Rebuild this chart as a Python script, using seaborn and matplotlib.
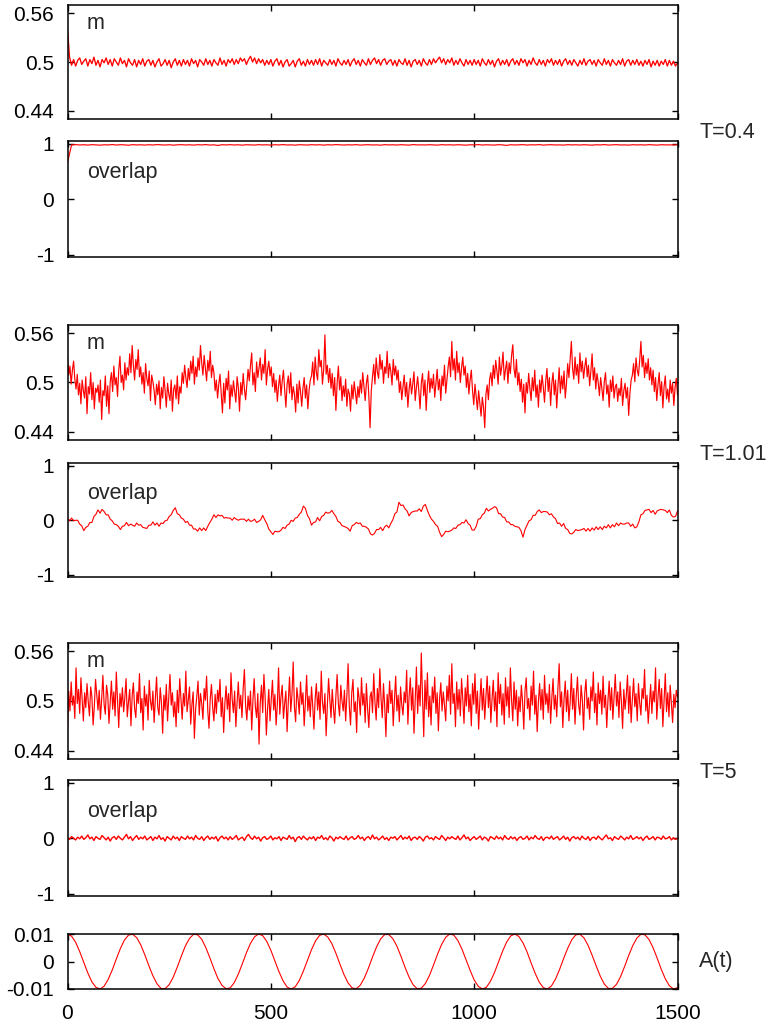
import numpy as np
import pandas as pd
import matplotlib
matplotlib.use("Agg")
import matplotlib.pyplot as plt
import seaborn as sns

# ---------------- data ----------------
T_MAX = 1500

# m at T=0.4 in units of 1/1000, sampled every 5 time units (t = 0 ... 1500)
m_T04_milli = [
    540, 506, 496, 503, 495, 502, 505, 497, 501, 504, 495, 503, 498, 506, 496, 502, 494, 503, 499, 505,
    497, 503, 495, 504, 500, 496, 505, 498, 502, 494, 504, 499, 496, 503, 494, 502, 497, 504, 495, 501,
    503, 496, 502, 494, 500, 504, 495, 498, 503, 496, 502, 493, 500, 504, 496, 502, 495, 503, 497, 502,
    495, 504, 498, 502, 494, 503, 500, 496, 504, 497, 502, 495, 503, 499, 496, 505, 497, 502, 495, 503,
    499, 504, 497, 503, 498, 505, 501, 504, 497, 503, 507, 500, 505, 498, 504, 499, 503, 496, 502, 497,
    503, 495, 501, 504, 496, 502, 494, 500, 503, 495, 498, 502, 494, 501, 504, 496, 501, 495, 503, 497,
    502, 496, 503, 497, 504, 495, 502, 499, 496, 503, 497, 502, 495, 504, 499, 496, 502, 497, 503, 495,
    501, 504, 497, 502, 495, 503, 499, 496, 504, 497, 502, 505, 498, 503, 496, 502, 504, 497, 501, 503,
    496, 502, 495, 503, 499, 497, 504, 496, 502, 494, 501, 503, 497, 502, 495, 504, 499, 496, 503, 497,
    504, 499, 503, 506, 499, 504, 497, 503, 499, 505, 496, 502, 497, 504, 499, 495, 503, 497, 502, 496,
    503, 497, 502, 495, 504, 499, 496, 503, 497, 502, 494, 501, 504, 496, 502, 497, 503, 495, 501, 504,
    497, 502, 496, 504, 499, 503, 495, 502, 497, 505, 499, 496, 503, 497, 502, 495, 503, 499, 504, 496,
    502, 497, 503, 495, 501, 504, 497, 502, 496, 503, 499, 495, 502, 497, 504, 496, 501, 503, 497, 502,
    495, 503, 499, 496, 504, 497, 502, 495, 503, 499, 496, 502, 497, 504, 495, 501, 503, 496, 502, 497,
    503, 496, 501, 495, 502, 497, 503, 494, 501, 496, 502, 495, 501, 497, 503, 495, 502, 496, 501, 495,
    499,
]

# overlap at T=0.4, sampled every 10 time units
overlap_T04 = [
    0.66, 0.98, 0.985, 0.978, 0.983, 0.976, 0.984, 0.980, 0.975, 0.982,
    0.979, 0.986, 0.977, 0.983, 0.980, 0.974, 0.984, 0.979, 0.982, 0.976,
    0.983, 0.978, 0.985, 0.980, 0.977, 0.983, 0.975, 0.981, 0.984, 0.978,
    0.982, 0.976, 0.983, 0.979, 0.985, 0.977, 0.981, 0.970, 0.983, 0.979,
    0.984, 0.978, 0.982, 0.975, 0.983, 0.980, 0.977, 0.984, 0.979, 0.982,
    0.976, 0.983, 0.979, 0.985, 0.978, 0.981, 0.975, 0.983, 0.980, 0.977,
    0.984, 0.979, 0.982, 0.976, 0.983, 0.978, 0.985, 0.980, 0.977, 0.982,
    0.979, 0.984, 0.976, 0.981, 0.983, 0.978, 0.980, 0.975, 0.984, 0.979,
    0.982, 0.977, 0.983, 0.980, 0.976, 0.985, 0.979, 0.981, 0.978, 0.983,
    0.980, 0.976, 0.984, 0.979, 0.982, 0.977, 0.983, 0.980, 0.975, 0.982,
    0.979, 0.985, 0.977, 0.982, 0.980, 0.976, 0.984, 0.979, 0.971, 0.983,
    0.978, 0.981, 0.984, 0.977, 0.982, 0.979, 0.985, 0.976, 0.981, 0.983,
    0.978, 0.980, 0.976, 0.984, 0.979, 0.982, 0.977, 0.983, 0.980, 0.975,
    0.982, 0.979, 0.985, 0.977, 0.981, 0.984, 0.978, 0.980, 0.976, 0.983,
    0.979, 0.982, 0.977, 0.984, 0.980, 0.976, 0.983, 0.979, 0.981, 0.978,
    0.983,
]

# m at T=1.01 in units of 1/1000, sampled every 3 time units
m_T101_milli = [
    531, 509, 520, 498, 515, 526, 504, 492, 510, 485, 499, 474, 503, 490, 481, 507, 462, 495, 486, 512, 479, 500, 468, 493, 488,
    497, 476, 503, 455, 490, 484, 508, 471, 496, 462, 501, 512, 489, 520, 497, 506, 483, 515, 532, 500, 509, 491, 524, 503, 518,
    509, 535, 512, 545, 521, 503, 528, 516, 540, 507, 519, 498, 512, 487, 523, 505, 496, 514, 478, 509, 501, 490, 473, 498, 485,
    502, 468, 494, 481, 507, 490, 470, 499, 486, 478, 503, 465, 492, 497, 480, 508, 474, 495, 487, 512, 499, 521, 506, 494, 517,
    503, 526, 511, 532, 498, 519, 507, 530, 515, 545, 524, 509, 533, 518, 502, 527, 514, 538, 506, 521, 512, 490, 503, 481, 498,
    510, 486, 463, 499, 475, 505, 491, 514, 468, 497, 483, 502, 489, 476, 507, 494, 465, 500, 485, 511, 492, 479, 498, 516, 502,
    521, 536, 497, 512, 489, 525, 506, 518, 530, 503, 522, 511, 540, 497, 516, 526, 508, 519, 495, 511, 488, 503, 477, 496, 509,
    484, 502, 515, 491, 470, 498, 508, 487, 512, 479, 495, 486, 464, 498, 475, 502, 489, 471, 493, 506, 481, 497, 468, 490, 503,
    508, 525, 497, 531, 512, 503, 540, 519, 527, 498, 516, 558, 510, 521, 500, 517, 493, 511, 484, 506, 466, 499, 520, 491, 507,
    478, 496, 483, 504, 471, 492, 486, 465, 497, 480, 501, 488, 474, 495, 482, 503, 487, 512, 495, 478, 499, 509, 484, 445, 490,
    507, 522, 498, 530, 513, 505, 534, 516, 527, 499, 519, 511, 538, 506, 523, 514, 497, 528, 509, 520, 503, 515, 488, 501, 479,
    495, 509, 483, 500, 470, 492, 505, 486, 498, 513, 478, 494, 507, 489, 468, 499, 511, 484, 503, 466, 496, 514, 488, 505, 493,
    510, 482, 499, 516, 491, 504, 478, 508, 496, 521, 487, 503, 519, 531, 507, 550, 515, 529, 503, 538, 512, 524, 500, 518, 531,
    509, 520, 494, 511, 486, 503, 515, 490, 473, 498, 482, 467, 490, 475, 459, 482, 470, 445, 486, 497, 479, 504, 512, 496, 521,
    505, 527, 514, 498, 531, 509, 520, 537, 503, 516, 526, 499, 524, 511, 533, 546, 517, 506, 528, 497, 512, 489, 504, 476, 498,
    463, 500, 487, 511, 493, 478, 506, 490, 515, 482, 497, 470, 503, 488, 509, 494, 476, 502, 517, 489, 506, 472, 499, 512, 485,
    503, 469, 495, 518, 487, 508, 492, 514, 481, 499, 523, 506, 528, 550, 517, 504, 531, 509, 522, 499, 536, 513, 526, 505, 519,
    530, 507, 521, 496, 514, 535, 503, 518, 492, 511, 500, 484, 506, 493, 478, 501, 512, 486, 497, 470, 503, 489, 508, 481, 495,
    498, 477, 493, 484, 505, 472, 490, 499, 481, 494, 460, 487, 503, 509, 523, 501, 530, 515, 508, 527, 550, 519, 533, 506, 524,
    511, 529, 503, 518, 497, 515, 489, 506, 478, 497, 512, 484, 501, 469, 495, 508, 480, 492, 476, 503, 487, 499, 472, 494, 505,
    485,
]

# overlap at T=1.01, sampled every 5 time units
overlap_T101 = [
    0.04, -0.01, 0.04, -0.01, 0.00, 0.00, -0.07, -0.10, -0.19, -0.13, -0.11, -0.04, -0.04, 0.07, 0.11, 0.19, 0.13, 0.20, 0.16, 0.10,
    0.10, 0.02, -0.01, -0.07, -0.08, -0.11, -0.17, -0.11, -0.10, -0.04, -0.10, -0.07, -0.09, -0.11, -0.05, -0.09, -0.08, -0.13, -0.14, -0.15,
    -0.09, -0.09, -0.03, -0.09, -0.05, -0.11, -0.05, -0.06, -0.01, 0.00, 0.07, 0.10, 0.18, 0.23, 0.12, 0.10, 0.04, 0.02, -0.04, -0.02,
    -0.09, -0.09, -0.16, -0.16, -0.20, -0.14, -0.19, -0.14, -0.19, -0.11, -0.04, 0.02, 0.10, 0.05, 0.10, 0.08, 0.09, 0.04, 0.05, 0.04,
    0.04, 0.00, 0.05, 0.02, 0.00, 0.02, 0.02, 0.02, -0.02, 0.02, -0.02, -0.01, 0.02, -0.04, -0.02, 0.01, 0.09, 0.01, -0.06, -0.16,
    -0.21, -0.26, -0.20, -0.21, -0.21, -0.18, -0.13, -0.15, -0.09, -0.07, 0.00, -0.02, 0.04, 0.05, 0.11, 0.15, 0.26, 0.22, 0.09, 0.03,
    -0.09, -0.04, -0.03, 0.05, -0.01, 0.07, 0.09, 0.15, 0.13, 0.14, 0.18, 0.12, 0.07, -0.02, -0.04, -0.10, -0.11, -0.13, -0.15, -0.20,
    -0.10, -0.08, -0.04, -0.06, -0.05, -0.11, -0.11, -0.13, -0.16, -0.25, -0.27, -0.24, -0.17, -0.17, -0.13, -0.19, -0.12, -0.09, -0.14, -0.06,
    0.01, 0.12, 0.15, 0.33, 0.27, 0.28, 0.21, 0.17, 0.08, 0.14, 0.16, 0.17, 0.17, 0.21, 0.16, 0.26, 0.29, 0.18, 0.09, 0.02,
    -0.02, -0.08, -0.11, -0.22, -0.30, -0.26, -0.20, -0.21, -0.20, -0.18, -0.14, -0.15, -0.09, -0.08, -0.04, -0.05, 0.01, -0.06, -0.09, -0.18,
    -0.18, -0.11, 0.02, 0.03, 0.10, 0.13, 0.22, 0.17, 0.20, 0.22, 0.25, 0.23, 0.12, 0.12, 0.06, 0.05, -0.03, -0.03, -0.08, -0.08,
    -0.11, -0.12, -0.13, -0.19, -0.31, -0.17, -0.09, -0.01, 0.01, 0.09, 0.09, 0.16, 0.19, 0.14, 0.16, 0.16, 0.15, 0.10, 0.12, 0.06,
    0.03, -0.06, -0.05, -0.11, -0.06, -0.15, -0.17, -0.24, -0.25, -0.22, -0.17, -0.19, -0.18, -0.17, -0.15, -0.20, -0.15, -0.20, -0.14, -0.18,
    -0.12, -0.17, -0.12, -0.17, -0.11, -0.14, -0.08, -0.14, -0.08, -0.12, -0.05, -0.10, -0.05, -0.07, -0.07, -0.05, -0.05, -0.11, -0.07, -0.14,
    -0.12, -0.03, 0.10, 0.12, 0.18, 0.19, 0.20, 0.14, 0.18, 0.11, 0.17, 0.19, 0.20, 0.19, 0.18, 0.14, 0.19, 0.09, 0.06, 0.07,
    0.17,
]

# m at T=5 in units of 1/1000, sampled every 3 time units
m_T5_milli = [
    467, 512, 488, 523, 495, 506, 479, 540, 497, 514, 485, 528, 503, 476, 510, 492, 521, 499, 482, 517, 505, 471, 494, 526, 508,
    489, 513, 478, 502, 531, 496, 484, 519, 507, 473, 498, 524, 490, 511, 482, 535, 500, 468, 509, 493, 516, 487, 504, 527, 481,
    499, 514, 470, 506, 522, 491, 480, 511, 497, 533, 486, 503, 465, 518, 494, 508, 477, 525, 500, 489, 512, 474, 503, 529, 492,
    483, 516, 498, 461, 507, 489, 520, 476, 504, 532, 495, 510, 481, 499, 469, 513, 486, 527, 502, 478, 509, 494, 536, 487, 501,
    517, 472, 496, 511, 455, 490, 506, 524, 483, 509, 497, 478, 515, 501, 530, 488, 467, 503, 520, 492, 476, 508, 485, 513, 499,
    526, 481, 504, 462, 497, 518, 490, 509, 475, 534, 502, 486, 512, 469, 498, 523, 491, 507, 480, 515, 538, 494, 477, 506, 489,
    512, 465, 501, 527, 493, 480, 509, 448, 498, 519, 486, 532, 504, 459, 491, 514, 476, 502, 525, 489, 508, 471, 496, 540, 484,
    505, 519, 479, 497, 512, 463, 500, 529, 487, 508, 547, 493, 475, 516, 502, 484, 523, 496, 510, 470, 499, 531, 488, 506, 481,
    517, 494, 466, 503, 521, 489, 511, 478, 536, 498, 485, 509, 458, 495, 527, 502, 480, 514, 491, 473, 506, 532, 497, 482, 519,
    500, 488, 513, 476, 507, 545, 493, 471, 510, 526, 487, 499, 462, 516, 504, 483, 528, 495, 509, 474, 521, 490, 468, 505, 511,
    486, 533, 499, 477, 515, 492, 539, 503, 480, 521, 494, 457, 508, 486, 524, 497, 513, 470, 502, 530, 488, 507, 475, 517, 495,
    483, 511, 498, 537, 472, 506, 528, 489, 516, 461, 502, 541, 485, 519, 494, 558, 505, 457, 525, 490, 534, 481, 506, 471, 517,
    498, 529, 485, 510, 464, 503, 522, 488, 511, 495, 476, 518, 500, 531, 484, 545, 497, 509, 469, 523, 490, 514, 482, 527, 502,
    473, 516, 494, 531, 487, 508, 470, 521, 496, 533, 485, 512, 466, 500, 527, 489, 515, 478, 506, 530, 492, 518, 474, 503, 525,
    488, 511, 469, 534, 497, 520, 483, 509, 472, 528, 494, 517, 480, 540, 501, 476, 523, 490, 513, 470, 505, 487, 519, 499, 466,
    512, 528, 491, 503, 477, 518, 495, 536, 484, 507, 463, 500, 521, 489, 514, 478, 531, 496, 509, 486, 520, 473, 504, 527, 490,
    507, 481, 516, 545, 493, 511, 468, 502, 524, 487, 513, 476, 498, 533, 490, 515, 472, 506, 529, 495, 483, 519, 501, 465, 510,
    526, 491, 504, 478, 517, 500, 535, 486, 509, 471, 522, 497, 513, 484, 530, 492, 507, 468, 501, 524, 489, 516, 478, 505, 532,
    494, 511, 480, 523, 499, 467, 514, 490, 506, 531, 485, 518, 474, 502, 527, 493, 509, 476, 521, 498, 483, 515, 503, 538, 488,
    507, 473, 496, 520, 485, 512, 499, 540, 478, 504, 526, 491, 515, 469, 502, 533, 487, 510, 481, 519, 496, 474, 508, 492, 513,
    505,
]

# overlap at T=5, sampled every 5 time units
overlap_T5 = [
    0.01, -0.02, 0.03, 0.00, -0.03, 0.02, -0.01, 0.04, -0.02, 0.01, 0.06, -0.01, 0.02, -0.04, 0.03, 0.00, -0.02, 0.05, 0.01, -0.03,
    0.02, -0.05, 0.01, 0.03, -0.02, 0.04, 0.00, -0.03, 0.02, 0.07, -0.01, 0.03, -0.04, 0.01, 0.05, -0.02, 0.02, -0.01, 0.04, -0.03,
    0.00, 0.03, -0.04, 0.02, -0.01, 0.05, -0.02, 0.01, -0.05, 0.03, 0.00, -0.03, 0.04, -0.01, 0.02, -0.04, 0.03, 0.00, -0.02, 0.04,
    -0.01, 0.02, -0.03, 0.05, 0.00, -0.02, 0.03, -0.04, 0.01, 0.04, -0.02, 0.02, -0.01, 0.03, -0.05, 0.01, 0.04, -0.01, 0.02, -0.03,
    0.03, -0.02, 0.01, 0.05, -0.03, 0.00, 0.02, -0.04, 0.03, 0.07, 0.01, -0.02, 0.04, -0.01, 0.02, -0.05, 0.01, 0.03, -0.02, 0.00,
    0.04, -0.03, 0.01, -0.01, 0.03, -0.04, 0.02, 0.00, -0.02, 0.05, -0.01, 0.02, -0.06, 0.01, 0.03, -0.02, 0.04, 0.00, -0.03, 0.02,
    -0.01, 0.03, -0.04, 0.02, 0.00, 0.05, -0.02, 0.01, -0.03, 0.04, 0.01, -0.05, 0.02, -0.01, 0.03, 0.00, -0.02, 0.04, -0.03, 0.01,
    0.03, -0.02, 0.00, 0.05, -0.01, 0.02, -0.04, 0.01, 0.03, -0.02, 0.06, -0.01, 0.02, -0.03, 0.00, 0.04, -0.02, 0.01, -0.04, 0.02,
    0.00, 0.03, -0.03, 0.01, 0.05, -0.02, 0.02, -0.01, 0.04, -0.04, 0.01, 0.02, -0.02, 0.03, 0.00, -0.05, 0.02, 0.04, -0.01, 0.01,
    -0.03, 0.03, 0.00, -0.02, 0.05, 0.01, -0.04, 0.02, -0.01, 0.03, 0.00, -0.02, 0.04, -0.03, 0.01, 0.06, -0.01, 0.02, -0.04, 0.00,
    0.03, -0.02, 0.01, 0.04, -0.03, 0.02, 0.00, -0.05, 0.03, 0.01, -0.02, 0.04, -0.01, 0.02, -0.03, 0.05, 0.00, -0.02, 0.03, -0.01,
    0.02, -0.04, 0.01, 0.03, -0.02, 0.00, 0.04, -0.03, 0.02, -0.01, 0.05, 0.00, -0.02, 0.03, -0.04, 0.01, 0.02, -0.01, 0.04, -0.02,
    0.01, 0.03, -0.03, 0.00, 0.04, -0.02, 0.02, -0.05, 0.01, 0.03, -0.01, 0.02, -0.03, 0.04, 0.00, -0.02, 0.03, -0.04, 0.01, 0.02,
    -0.02, 0.04, 0.00, -0.03, 0.02, 0.06, -0.01, 0.01, -0.04, 0.03, 0.00, -0.02, 0.04, 0.01, -0.03, 0.02, -0.01, 0.05, -0.02, 0.00,
    0.03, -0.01, 0.02, -0.04, 0.01, 0.04, -0.02, 0.00, 0.03, -0.03, 0.02, 0.01, -0.02, 0.04, -0.01, 0.00, 0.03, -0.03, 0.01, -0.02,
    0.00,
]

# driving field A(t), sampled every 10 time units
A_t = [
    0.0100, 0.0092, 0.0070, 0.0036, -0.0003, -0.0042, -0.0074, -0.0094, -0.0100, -0.0090,
    -0.0065, -0.0031, 0.0009, 0.0047, 0.0078, 0.0096, 0.0099, 0.0087, 0.0061, 0.0025,
    -0.0015, -0.0052, -0.0081, -0.0098, -0.0099, -0.0084, -0.0057, -0.0020, 0.0020, 0.0057,
    0.0084, 0.0099, 0.0097, 0.0081, 0.0051, 0.0014, -0.0026, -0.0062, -0.0087, -0.0099,
    -0.0096, -0.0077, -0.0046, -0.0008, 0.0032, 0.0066, 0.0090, 0.0100, 0.0094, 0.0073,
    0.0041, 0.0002, -0.0037, -0.0070, -0.0093, -0.0100, -0.0092, -0.0069, -0.0035, 0.0004,
    0.0043, 0.0075, 0.0095, 0.0100, 0.0089, 0.0065, 0.0030, -0.0010, -0.0048, -0.0078,
    -0.0096, -0.0099, -0.0086, -0.0060, -0.0024, 0.0016, 0.0053, 0.0082, 0.0098, 0.0098,
    0.0083, 0.0056, 0.0019, -0.0021, -0.0057, -0.0085, -0.0099, -0.0097, -0.0080, -0.0051,
    -0.0013, 0.0027, 0.0062, 0.0088, 0.0100, 0.0096, 0.0076, 0.0045, 0.0007, -0.0032,
    -0.0067, -0.0090, -0.0100, -0.0094, -0.0072, -0.0040, -0.0001, 0.0038, 0.0071, 0.0093,
    0.0100, 0.0091, 0.0068, 0.0035, -0.0005, -0.0043, -0.0075, -0.0095, -0.0100, -0.0089,
    -0.0064, -0.0029, 0.0011, 0.0048, 0.0079, 0.0097, 0.0099, 0.0086, 0.0059, 0.0023,
    -0.0016, -0.0053, -0.0082, -0.0098, -0.0098, -0.0083, -0.0055, -0.0018, 0.0022, 0.0058,
    0.0085, 0.0099, 0.0097, 0.0080, 0.0050, 0.0012, -0.0028, -0.0063, -0.0088, -0.0100,
    -0.0095,
]

x_ticks = [0, 500, 1000, 1500]
x_ticklabels = ["0", "500", "1000", "1500"]
m_ticks = [0.44, 0.5, 0.56]
m_ticklabels = ["0.44", "0.5", "0.56"]
ov_ticks = [-1, 0, 1]
ov_ticklabels = ["-1", "0", "1"]
A_ticks = [-0.01, 0, 0.01]
A_ticklabels = ["-0.01", "0", "0.01"]
temperature_labels = ["T=0.4", "T=1.01", "T=5"]

# ---------------- styling ----------------
sns.set_theme(style="ticks")
plt.rcParams['font.family'] = ['Liberation Sans', 'DejaVu Sans']
RED = "#ff0000"
TICK_FS = 15
TXT_FS = 15.5

W, H = 768, 1024
fig = plt.figure(figsize=(W / 100, H / 100), dpi=100)
fig.patch.set_facecolor("white")

LEFT, RIGHT = 67.5, 677.5


def make_ax(top, bottom):
    return fig.add_axes([LEFT / W, 1 - bottom / H, (RIGHT - LEFT) / W, (bottom - top) / H])


def style(ax, yticks, ylabels, ylim, show_x=False):
    ax.set_facecolor("white")
    ax.set_xlim(0, T_MAX)
    ax.set_ylim(*ylim)
    ax.set_xticks(x_ticks)
    ax.set_yticks(yticks)
    ax.set_yticklabels(ylabels)
    ax.tick_params(axis="both", direction="in", length=4, width=1.0,
                   top=True, right=True, labelsize=TICK_FS, pad=9.5, colors="black")
    ax.tick_params(axis="x", labelbottom=show_x, pad=10.5)
    if show_x:
        ax.set_xticklabels(x_ticklabels)
    ax.set_xlabel("")
    ax.set_ylabel("")
    for s in ax.spines.values():
        s.set_visible(True)
        s.set_color("black")
        s.set_linewidth(1.1)


def draw(ax, y, lw=0.8):
    y = np.asarray(y, dtype=float)
    t = np.linspace(0, T_MAX, len(y))
    df = pd.DataFrame({"t": t, "y": y})
    sns.lineplot(data=df, x="t", y="y", ax=ax, color=RED, linewidth=lw,
                 estimator=None, errorbar=None, sort=False)


M_LIM = (0.430, 0.570)
OV_LIM = (-1.04, 1.05)

m_series = [np.array(m_T04_milli) / 1000.0, np.array(m_T101_milli) / 1000.0,
            np.array(m_T5_milli) / 1000.0]
ov_series = [overlap_T04, overlap_T101, overlap_T5]
m_widths = [0.95, 0.85, 0.85]
ov_widths = [0.85, 0.8, 1.0]
m_rows = [(5, 119), (325, 440), (643, 759)]
ov_rows = [(141, 257), (463, 577), (780, 896)]
label_rows = [133, 455, 772]

for i, T_label in enumerate(temperature_labels):
    ax_m = make_ax(*m_rows[i])
    draw(ax_m, m_series[i], lw=m_widths[i])
    style(ax_m, m_ticks, m_ticklabels, M_LIM)
    ax_m.text(0.032, 0.84, "m", transform=ax_m.transAxes, fontsize=TXT_FS,
              ha="left", va="center")

    ax_o = make_ax(*ov_rows[i])
    draw(ax_o, ov_series[i], lw=ov_widths[i])
    style(ax_o, ov_ticks, ov_ticklabels, OV_LIM)
    ax_o.text(0.032, 0.73, "overlap", transform=ax_o.transAxes, fontsize=TXT_FS,
              ha="left", va="center")

    fig.text(699 / W, 1 - label_rows[i] / H, T_label, fontsize=TXT_FS,
             ha="left", va="center")

ax_A = make_ax(934, 989)
draw(ax_A, A_t, lw=0.8)
style(ax_A, A_ticks, A_ticklabels, (-0.01, 0.01), show_x=True)
fig.text(699 / W, 1 - 962 / H, "A(t)", fontsize=TXT_FS, ha="left", va="center")

fig.savefig("out.png", dpi=100, facecolor="white")
